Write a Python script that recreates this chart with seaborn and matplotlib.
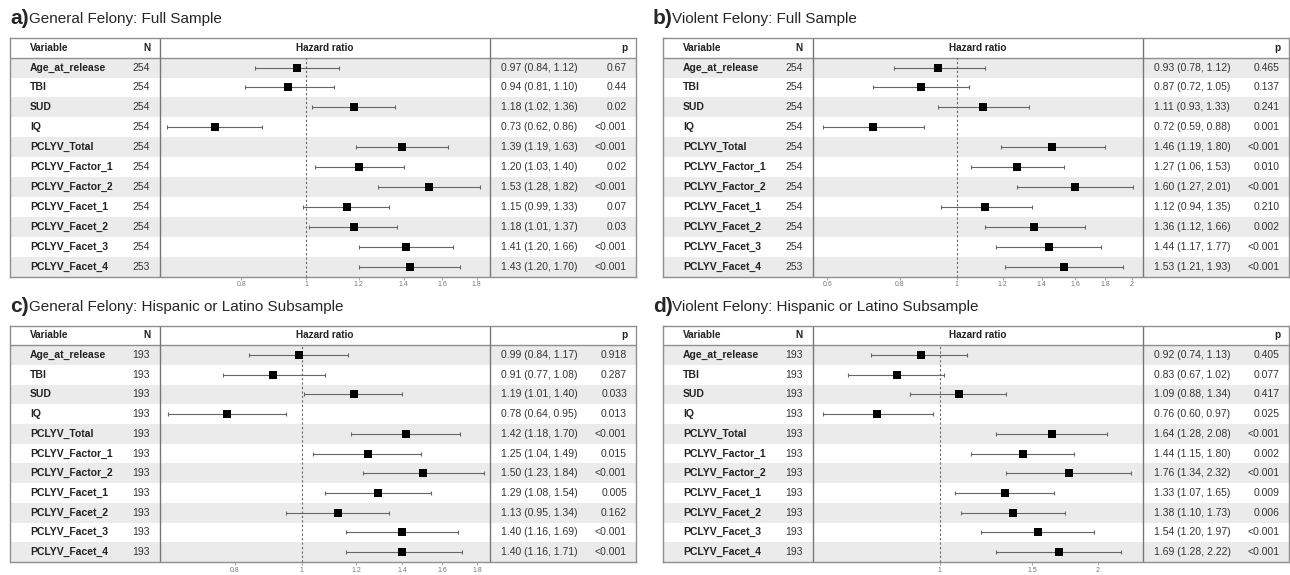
import numpy as np
import pandas as pd
import matplotlib.pyplot as plt
import seaborn as sns

sns.set_style('white')
plt.rcParams['font.family'] = ['Liberation Sans', 'DejaVu Sans']

variables = ['Age_at_release', 'TBI', 'SUD', 'IQ', 'PCLYV_Total', 'PCLYV_Factor_1',
             'PCLYV_Factor_2', 'PCLYV_Facet_1', 'PCLYV_Facet_2', 'PCLYV_Facet_3', 'PCLYV_Facet_4']

n_full = [254, 254, 254, 254, 254, 254, 254, 254, 254, 254, 253]
n_hisp = [193] * 11

# a) General felony, full sample
hr_a = [0.97, 0.94, 1.18, 0.73, 1.39, 1.20, 1.53, 1.15, 1.18, 1.41, 1.43]
lo_a = [0.84, 0.81, 1.02, 0.62, 1.19, 1.03, 1.28, 0.99, 1.01, 1.20, 1.20]
hi_a = [1.12, 1.10, 1.36, 0.86, 1.63, 1.40, 1.82, 1.33, 1.37, 1.66, 1.70]
p_a = ['0.67', '0.44', '0.02', '<0.001', '<0.001', '0.02', '<0.001', '0.07', '0.03', '<0.001', '<0.001']

# b) Violent felony, full sample
hr_b = [0.93, 0.87, 1.11, 0.72, 1.46, 1.27, 1.60, 1.12, 1.36, 1.44, 1.53]
lo_b = [0.78, 0.72, 0.93, 0.59, 1.19, 1.06, 1.27, 0.94, 1.12, 1.17, 1.21]
hi_b = [1.12, 1.05, 1.33, 0.88, 1.80, 1.53, 2.01, 1.35, 1.66, 1.77, 1.93]
p_b = ['0.465', '0.137', '0.241', '0.001', '<0.001', '0.010', '<0.001', '0.210', '0.002', '<0.001', '<0.001']

# c) General felony, Hispanic or Latino subsample
hr_c = [0.99, 0.91, 1.19, 0.78, 1.42, 1.25, 1.50, 1.29, 1.13, 1.40, 1.40]
lo_c = [0.84, 0.77, 1.01, 0.64, 1.18, 1.04, 1.23, 1.08, 0.95, 1.16, 1.16]
hi_c = [1.17, 1.08, 1.40, 0.95, 1.70, 1.49, 1.84, 1.54, 1.34, 1.69, 1.71]
p_c = ['0.918', '0.287', '0.033', '0.013', '<0.001', '0.015', '<0.001', '0.005', '0.162', '<0.001', '<0.001']

# d) Violent felony, Hispanic or Latino subsample
hr_d = [0.92, 0.83, 1.09, 0.76, 1.64, 1.44, 1.76, 1.33, 1.38, 1.54, 1.69]
lo_d = [0.74, 0.67, 0.88, 0.60, 1.28, 1.15, 1.34, 1.07, 1.10, 1.20, 1.28]
hi_d = [1.13, 1.02, 1.34, 0.97, 2.08, 1.80, 2.32, 1.65, 1.73, 1.97, 2.22]
p_d = ['0.405', '0.077', '0.417', '0.025', '<0.001', '0.002', '<0.001', '0.009', '0.006', '<0.001', '<0.001']

ticks_ac = [0.8, 1, 1.2, 1.4, 1.6, 1.8]
ticks_b = [0.6, 0.8, 1, 1.2, 1.4, 1.6, 1.8, 2]
ticks_d = [1, 1.5, 2]

W, H = 1290, 575
fig = plt.figure(figsize=(W / 100, H / 100), dpi=100)

BAND = '#ebebeb'
LINE = '#8f8f8f'
FS = 7.5


def px_axes(x0, y0, x1, y1):
    return fig.add_axes([x0 / W, 1 - y1 / H, (x1 - x0) / W, (y1 - y0) / H])


def forest_panel(letter, title, box, title_x, row_h, n, hr, lo, hi, p, xlim, ticks):
    x0, y0 = box
    width = 626
    nrows = len(variables)
    y1 = y0 + row_h * (nrows + 1)
    df = pd.DataFrame({'variable': variables, 'n': n, 'hr': hr, 'lo': lo, 'hi': hi, 'p': p})
    df['row'] = np.arange(nrows)

    # title
    fig.text(title_x / W, 1 - (y0 - 19) / H, letter, fontsize=15, fontweight='bold',
             va='center', ha='left')
    fig.text((title_x + 19) / W, 1 - (y0 - 19) / H, title, fontsize=11,
             va='center', ha='left')

    # table background
    bg = px_axes(x0, y0, x0 + width, y1)
    bg.set_xlim(0, width)
    bg.set_ylim(nrows - 0.5, -1.5)
    bg.set_xticks([])
    bg.set_yticks([])
    for s in bg.spines.values():
        s.set_color(LINE)
        s.set_linewidth(1.0)
    for i in range(0, nrows, 2):
        bg.axhspan(i - 0.5, i + 0.5, color=BAND, lw=0)
    bg.axhline(-0.5, color=LINE, lw=1.0)
    bg.axvline(150, color='#777777', lw=1.0)
    bg.axvline(480, color='#777777', lw=1.0)

    hdr = dict(fontsize=FS - 0.3, fontweight='bold', va='center', color='#222222')
    bg.text(20, -1, 'Variable', ha='left', **hdr)
    bg.text(140, -1, 'N', ha='right', **hdr)
    bg.text(315, -1, 'Hazard ratio', ha='center', **hdr)
    bg.text(617, -1, 'p', ha='right', **hdr)
    for _, r in df.iterrows():
        bg.text(20, r['row'], r['variable'], ha='left', va='center', fontsize=FS,
                fontweight='bold', color='#222222')
        bg.text(140, r['row'], str(r['n']), ha='right', va='center', fontsize=FS, color='#333333')
        bg.text(491, r['row'], f"{r['hr']:.2f} ({r['lo']:.2f}, {r['hi']:.2f})",
                ha='left', va='center', fontsize=FS, color='#333333')
        bg.text(617, r['row'], r['p'], ha='right', va='center', fontsize=FS, color='#333333')

    # forest plot
    ax = px_axes(x0 + 150, y0 + row_h, x0 + 480, y1)
    ax.patch.set_alpha(0)
    ax.set_xscale('log')
    ax.axvline(1, color='#666666', lw=0.8, ls=(0, (2, 2)), zorder=1)
    ax.errorbar(df['hr'], df['row'], xerr=[df['hr'] - df['lo'], df['hi'] - df['hr']],
                fmt='none', ecolor='#666666', elinewidth=0.8, capsize=1.5, capthick=0.8, zorder=2)
    sns.scatterplot(data=df, x='hr', y='row', marker='s', s=40, color='black',
                    edgecolor='black', linewidth=0, ax=ax, zorder=3, legend=False)
    ax.set_xlim(*xlim)
    ax.set_ylim(nrows - 0.5, -0.5)
    ax.set_xticks(ticks, labels=[f'{t:g}' for t in ticks])
    ax.minorticks_off()
    ax.set_yticks([])
    ax.set_xlabel('')
    ax.set_ylabel('')
    for s in ax.spines.values():
        s.set_visible(False)
    ax.tick_params(axis='x', length=2, width=0.6, color='#999999', pad=1.5,
                   labelsize=5, labelcolor='#777777', bottom=True)


forest_panel('a)', 'General Felony: Full Sample', (10, 37.7), 10, 19.9,
             n_full, hr_a, lo_a, hi_a, p_a, (0.605, 1.885), ticks_ac)
forest_panel('b)', 'Violent Felony: Full Sample', (663, 37.7), 653, 19.9,
             n_full, hr_b, lo_b, hi_b, p_b, (0.567, 2.09), ticks_b)
forest_panel('c)', 'General Felony: Hispanic or Latino Subsample', (10, 325.5), 10, 19.7,
             n_hisp, hr_c, lo_c, hi_c, p_c, (0.623, 1.878), ticks_ac)
forest_panel('d)', 'Violent Felony: Hispanic or Latino Subsample', (663, 325.5), 653, 19.7,
             n_hisp, hr_d, lo_d, hi_d, p_d, (0.574, 2.44), ticks_d)

fig.savefig('out.png', dpi=100)
plt.close(fig)
